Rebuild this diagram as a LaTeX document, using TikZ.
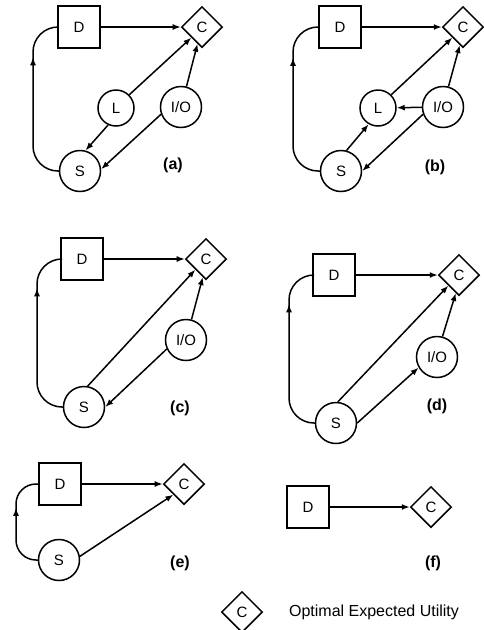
\documentclass[tikz,border=0pt]{standalone}
\usepackage{fontspec}
\setmainfont{Liberation Sans}
\usetikzlibrary{arrows.meta,shapes.geometric,decorations.markings}
\begin{document}
\begin{tikzpicture}[x=1pt,y=-1pt,
  every node/.style={font=\fontsize{15}{17}\selectfont},
  line width=1.5pt,
  boxnode/.style={draw, rectangle, minimum size=42pt, inner sep=0pt},
  circnode/.style={draw, circle, minimum size=41pt, inner sep=0pt},
  smallcirc/.style={draw, circle, minimum size=36pt, inner sep=0pt},
  dianode/.style={draw, diamond, aspect=1, minimum width=41pt, minimum height=41pt, inner sep=0pt},
  tag/.style={font=\bfseries\fontsize{16}{18}\selectfont},
  arr/.style={-{Latex[length=8pt,width=6pt]}},
  fbloop/.style={rounded corners=#1, postaction={decorate},
    decoration={markings, mark=at position -1.571*#1-6pt with {\arrow{Latex[length=8pt,width=6pt]}}}},
  fbloop/.default=25pt,
]
\useasboundingbox (0,0) rectangle (483,630);

% ---------- (a)
\node[boxnode] (Da) at (79,27) {D};
\node[dianode] (Ca) at (202,27) {C};
\node[smallcirc] (La) at (116,108) {L};
\node[circnode] (IOa) at (181,107) {I/O};
\node[circnode] (Sa) at (80,171) {S};
\node[tag] (ta) at (173,165) {(a)};
\draw[arr] (Da) -- (Ca);
\draw[arr] (La.45) -- (Ca.south west);
\draw[arr] (La.245) -- (Sa.75);
\draw[arr] (IOa.75) -- (Ca.-105);
\draw[arr] (IOa.200) -- (Sa.5);
\draw[fbloop] (Sa.west) -| (33,27) -- (Da.west);

% ---------- (b)
\node[boxnode] (Db) at (340,27) {D};
\node[dianode] (Cb) at (463,27) {C};
\node[smallcirc] (Lb) at (378,108) {L};
\node[circnode] (IOb) at (443,107) {I/O};
\node[circnode] (Sb) at (341,171) {S};
\node[tag] (tb) at (435,167) {(b)};
\draw[arr] (Db) -- (Cb);
\draw[arr] (Lb.45) -- (Cb.south west);
\draw[arr] (IOb.75) -- (Cb.-100);
\draw[arr] (IOb) -- (Lb);
\draw[arr] (Sb.75) -- (Lb.240);
\draw[arr] (IOb.200) -- (Sb.0);
\draw[fbloop] (Sb.west) -| (293,27) -- (Db.west);

% ---------- (c)
\node[boxnode] (Dc) at (82,259) {D};
\node[dianode] (Cc) at (206,259) {C};
\node[circnode] (IOc) at (186,340) {I/O};
\node[circnode] (Sc) at (84,407) {S};
\node[tag] (tc) at (180,408) {(c)};
\draw[arr] (Dc) -- (Cc);
\draw[arr] (Sc.80) -- (Cc.south west);
\draw[arr] (IOc.75) -- (Cc.-100);
\draw[arr] (IOc.205) -- (Sc.0);
\draw[fbloop] (Sc.west) -| (37,259) -- (Dc.west);

% ---------- (d)
\node[boxnode] (Dd) at (334,275) {D};
\node[dianode] (Cd) at (459,275) {C};
\node[circnode] (IOd) at (437,357) {I/O};
\node[circnode] (Sd) at (336,423) {S};
\node[tag] (td) at (437,406) {(d)};
\draw[arr] (Dd) -- (Cd);
\draw[arr] (Sd.85) -- (Cd.south west);
\draw[arr] (Sd.0) -- (IOd.210);
\draw[arr] (IOd.75) -- (Cd.-100);
\draw[fbloop] (Sd.west) -| (289,275) -- (Dd.west);

% ---------- (e)
\node[boxnode] (De) at (60,484) {D};
\node[dianode] (Ce) at (184,484) {C};
\node[circnode] (Se) at (59,560) {S};
\node[tag] (te) at (180,563) {(e)};
\draw[arr] (De) -- (Ce);
\draw[arr] (Se.10) -- (Ce.south west);
\draw[fbloop=20pt] (Se.west) -| (16,484) -- (De.west);

% ---------- (f)
\node[boxnode] (Df) at (308,507) {D};
\node[dianode] (Cf) at (431,507) {C};
\node[tag] (tf) at (433,563) {(f)};
\draw[arr] (Df) -- (Cf);

% ---------- legend
\node[dianode] (Cl) at (242,612) {C};
\node[anchor=west, font=\fontsize{16}{18}\selectfont] (leg) at (285,612) {Optimal Expected Utility};
\end{tikzpicture}
\end{document}
